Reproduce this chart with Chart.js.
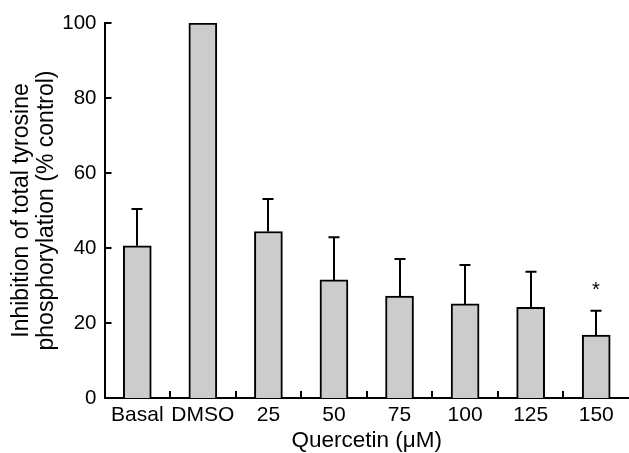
<!DOCTYPE html>
<html><head><meta charset="utf-8">
<script src="https://cdn.jsdelivr.net/npm/chart.js@4/dist/chart.umd.min.js"></script>
<style>html,body{margin:0;padding:0;background:#fff;overflow:hidden}#wrap{width:629px;height:453px;position:relative}</style>
</head><body><div id="wrap"><canvas id="c" width="629" height="453"></canvas></div>
<script>
const categories = ['Basal', 'DMSO', '25', '50', '75', '100', '125', '150'];
const meanValues = [40.6, 100, 44.4, 31.5, 27.2, 25.1, 24.2, 16.8];
const errorTops = [50.4, null, 53.1, 42.9, 37.1, 35.5, 33.7, 23.3];
const significance = ['', '', '', '', '', '', '', '*'];
const yTicks = [0, 20, 40, 60, 80, 100];
const xTitle = 'Quercetin (μM)';
const yTitle = ['Inhibition of total tyrosine', 'phosphorylation (% control)'];

const FONT = "'Liberation Sans', Arial, Helvetica, sans-serif";

const decorations = {
  id: 'decorations',
  afterDatasetsDraw(chart) {
    const {ctx, chartArea: area, scales: {x, y}} = chart;
    const meta = chart.getDatasetMeta(0);
    ctx.save();
    ctx.strokeStyle = '#000';
    ctx.lineWidth = 2;
    ctx.lineCap = 'butt';
    meta.data.forEach((bar, i) => {
      const top = errorTops[i];
      if (top == null) return;
      const px = Math.round(bar.x);
      const py0 = y.getPixelForValue(meanValues[i]);
      const py1 = y.getPixelForValue(top);
      ctx.beginPath();
      ctx.moveTo(px, py0);
      ctx.lineTo(px, py1);
      ctx.moveTo(px - 5.5, py1);
      ctx.lineTo(px + 5.5, py1);
      ctx.stroke();
      if (significance[i]) {
        ctx.fillStyle = '#000';
        ctx.font = '20px ' + FONT;
        ctx.textAlign = 'center';
        ctx.textBaseline = 'middle';
        ctx.fillText(significance[i], px, py1 - 20);
      }
    });
    // inward tick marks
    ctx.beginPath();
    yTicks.forEach(v => {
      const py = y.getPixelForValue(v);
      ctx.moveTo(area.left, py);
      ctx.lineTo(area.left + 7, py);
    });
    for (let i = 0; i < categories.length - 1; i++) {
      const px = Math.round((x.getPixelForValue(i) + x.getPixelForValue(i + 1)) / 2);
      ctx.moveTo(px, area.bottom);
      ctx.lineTo(px, area.bottom - 7);
    }
    ctx.stroke();
    ctx.restore();
  }
};

new Chart(document.getElementById('c'), {
  type: 'bar',
  data: {
    labels: categories,
    datasets: [{
      data: meanValues,
      backgroundColor: '#cccccc',
      borderColor: '#000',
      borderWidth: 2,
      borderSkipped: 'start',
      barThickness: 28
    }]
  },
  options: {
    responsive: false,
    animation: false,
    devicePixelRatio: 1,
    layout: {padding: {top: 23, right: -9, bottom: 0, left: 0}},
    plugins: {legend: {display: false}, tooltip: {enabled: false}},
    scales: {
      x: {
        type: 'category',
        offset: true,
        z: 1,
        grid: {display: false, drawTicks: false},
        border: {display: true, color: '#000', width: 2},
        ticks: {color: '#000', font: {family: FONT, size: 21}, padding: 5, maxRotation: 0, autoSkip: false},
        title: {display: true, text: xTitle, color: '#000', font: {family: FONT, size: 22.5, lineHeight: 1.0}, padding: {top: 0, bottom: 0.75}},
        afterFit(s) { s.height = 55; }
      },
      y: {
        min: 0, max: 100,
        z: 1,
        grid: {display: false, drawTicks: false},
        border: {display: true, color: '#000', width: 2},
        ticks: {stepSize: 20, color: '#000', font: {family: FONT, size: 20.5}, padding: 8},
        title: {display: true, text: yTitle, color: '#000', font: {family: FONT, size: 23, lineHeight: '25px'}, padding: {top: 9.5, bottom: 0}},
        afterFit(s) { s.width = 104.5; }
      }
    }
  },
  plugins: [decorations]
});
</script>
</body></html>
